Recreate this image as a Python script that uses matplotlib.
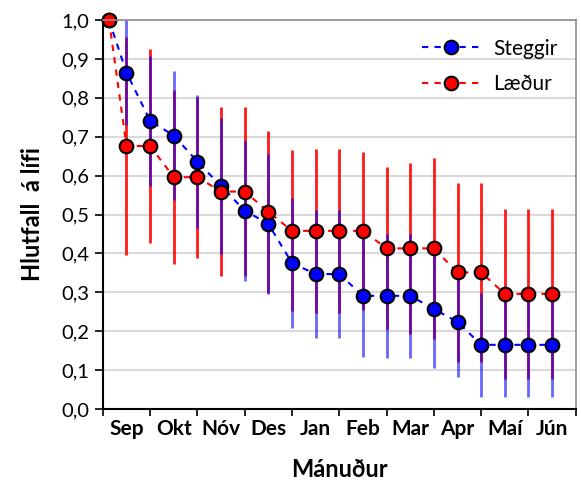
import numpy as np
import matplotlib
matplotlib.use('Agg')
import matplotlib.pyplot as plt

plt.rcParams['font.family'] = ['Lato', 'DejaVu Sans']

# months since 1 Sep
manudir = [0.13, 0.5, 1.0, 1.5, 2.0, 2.5, 3.0, 3.5, 4.0, 4.5,
           5.0, 5.5, 6.0, 6.5, 7.0, 7.5, 8.0, 8.5, 9.0, 9.5]

steggir = [1.0, 0.865, 0.741, 0.703, 0.636, 0.573, 0.510, 0.476, 0.375, 0.347,
           0.347, 0.291, 0.291, 0.291, 0.257, 0.224, 0.165, 0.165, 0.165, 0.165]
steggir_err = [0, 0.135, 0.167, 0.165, 0.17, 0.174, 0.18, 0.18, 0.168, 0.165,
               0.165, 0.157, 0.16, 0.16, 0.151, 0.141, 0.133, 0.133, 0.133, 0.133]

laedur = [1.0, 0.676, 0.676, 0.596, 0.596, 0.559, 0.559, 0.507, 0.458, 0.458,
          0.458, 0.458, 0.413, 0.413, 0.413, 0.351, 0.351, 0.296, 0.296, 0.296]
laedur_err = [0, 0.28, 0.249, 0.223, 0.207, 0.218, 0.217, 0.208, 0.207, 0.21,
              0.21, 0.204, 0.208, 0.22, 0.233, 0.231, 0.231, 0.218, 0.218, 0.218]

man_labels = ['Sep', 'Okt', 'Nóv', 'Des', 'Jan', 'Feb', 'Mar', 'Apr', 'Maí', 'Jún']
y_ticks = [0.0, 0.1, 0.2, 0.3, 0.4, 0.5, 0.6, 0.7, 0.8, 0.9, 1.0]


fig = plt.figure(figsize=(5.81, 4.86), dpi=100)
ax = fig.add_axes([0.177, 0.1584, 0.814, 0.8004])

x = np.array(manudir)
s = np.array(steggir)
se = np.array(steggir_err)
l = np.array(laedur)
le = np.array(laedur_err)

# error bars (first point has none)
ax.vlines(x[1:], (l - le)[1:], (l + le)[1:],
          color='red', alpha=0.9, lw=2, zorder=2)
ax.vlines(x[1:], (s - se)[1:], (s + se)[1:],
          color='blue', alpha=0.6, lw=2, zorder=3)

ax.plot(x, steggir, ls=(0, (3, 3)), color='blue', lw=1.5, marker='o', ms=9.8,
        mfc='blue', mec='black', mew=1.5, label='Steggir', zorder=4, clip_on=False)
ax.plot(x, laedur, ls=(0, (3, 3)), color='red', lw=1.5, marker='o', ms=9.8,
        mfc='red', mec='black', mew=1.5, label='Læður', zorder=5, clip_on=False)

ax.set_xlim(0, 10)
ax.set_ylim(0, 1.0)
ax.set_xticks(np.arange(0, 11))
ax.set_xticklabels([])
ax.set_xticks(np.arange(0.5, 10, 1), minor=True)
ax.set_xticklabels(man_labels, minor=True, fontsize=15, fontweight='bold')
ax.tick_params(axis='x', which='minor', length=0, pad=7)
ax.tick_params(axis='x', which='major', direction='out', length=5, width=1.2)

ax.set_yticks(y_ticks)
ax.set_yticklabels([('%.1f' % v).replace('.', ',') for v in y_ticks], fontsize=14.5)
ax.tick_params(axis='y', direction='out', length=6, width=1.2, pad=4)

ax.grid(axis='y', color='#d9d9d9', lw=1.5, zorder=0)
ax.set_axisbelow(True)

for k in ['left', 'bottom']:
    ax.spines[k].set_linewidth(1.5)
    ax.spines[k].set_color('black')
for k in ['top', 'right']:
    ax.spines[k].set_linewidth(1.2)
    ax.spines[k].set_color('#8c8c8c')
for sp in ax.spines.values():
    sp.set_zorder(6)

ax.set_xlabel('Mánuður', fontsize=17, fontweight='bold', labelpad=14)
ax.set_ylabel('Hlutfall  á lífi', fontsize=17, fontweight='bold', labelpad=12)

ax.legend(loc='upper right', frameon=False, fontsize=15, handlelength=2.8,
          handletextpad=0.6, labelspacing=0.75, bbox_to_anchor=(1.0, 1.0))

fig.savefig('out.png', dpi=100)
